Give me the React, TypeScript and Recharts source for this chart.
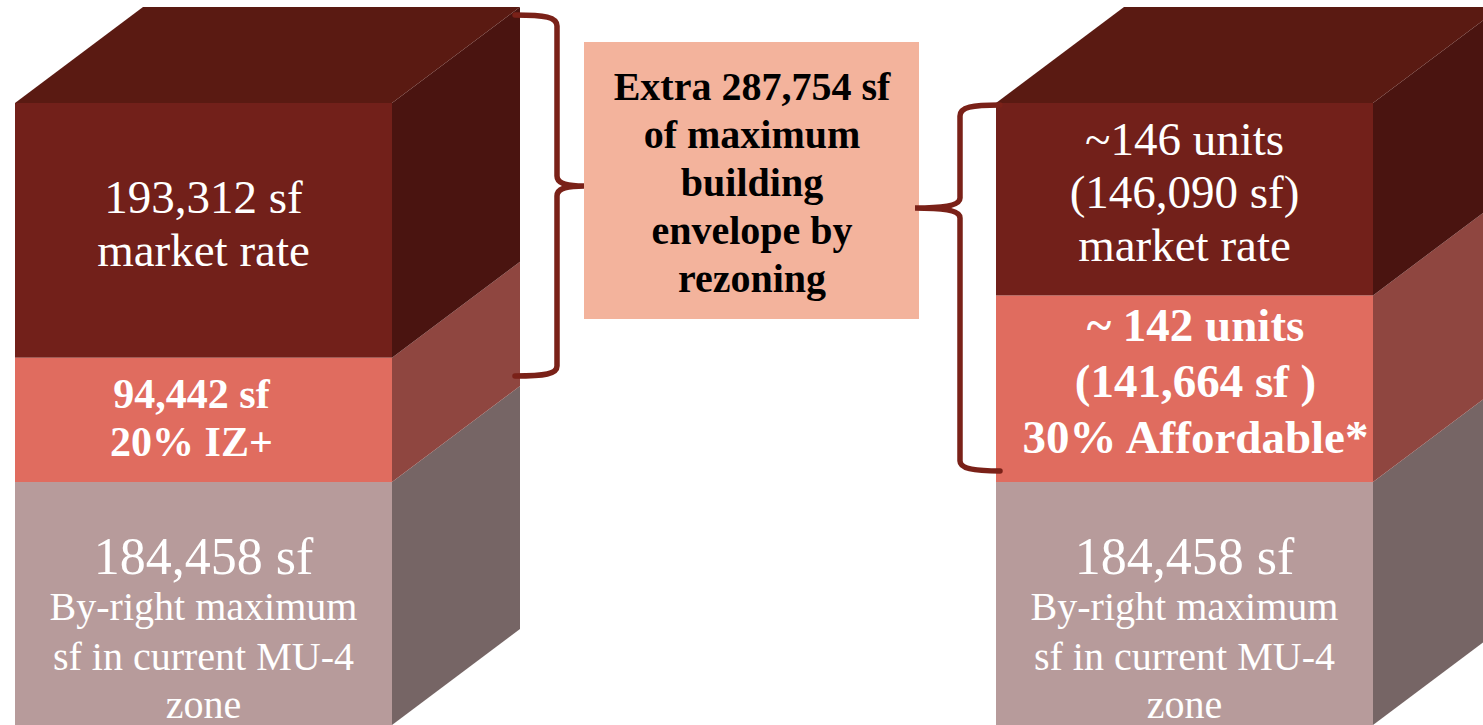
import React from "react";
import { BarChart, Bar, XAxis, YAxis } from "recharts";

// square footage per building segment, bottom to top
const categories = ["Current MU-4 zoning", "After rezoning"];
const byRightSf = [184458, 184458];
const affordableSf = [94442, 141664];
const marketRateSf = [193312, 146090];

const byRightLabels = [
  ["184,458 sf", "By-right maximum", "sf in current MU-4", "zone"],
  ["184,458 sf", "By-right maximum", "sf in current MU-4", "zone"],
];
const affordableLabels = [
  ["94,442 sf", "20% IZ+"],
  ["~ 142 units", "(141,664 sf )", "30% Affordable*"],
];
const marketRateLabels = [
  ["193,312 sf", "market rate"],
  ["~146 units", "(146,090 sf)", "market rate"],
];
const extraLabel = ["Extra 287,754 sf", "of maximum", "building", "envelope by", "rezoning"];

const data = categories.map((name, i) => ({
  name,
  byRight: byRightSf[i],
  affordable: affordableSf[i],
  marketRate: marketRateSf[i],
}));
const total = Math.max(...data.map((d) => d.byRight + d.affordable + d.marketRate));

const DX = 128;
const DY = 96;
const SERIF = '"Liberation Serif", "Times New Roman", Times, serif';
const BRACE = "#7a2118";

type Line = { text: string; y: number; size: number };
type Layout = (lines: string[], index: number, y: number, h: number) => Line[];

const centered = (size: number, lh: number, shift: number): Layout => (lines, _i, y, h) => {
  const mid = y + h / 2 + shift;
  const start = mid - ((lines.length - 1) * lh) / 2;
  return lines.map((text, k) => ({ text, y: start + k * lh, size }));
};

const marketLayout = centered(47, 53, -7);
const affordableLayout: Layout = (lines, i, y, h) =>
  i === 0 ? centered(42, 48, -2)(lines, i, y, h) : centered(47, 56, -8)(lines, i, y, h);
const byRightLayout: Layout = (lines, _i, y) => {
  const offsets = [74, 124, 174, 222];
  return lines.map((text, k) => ({ text, y: y + offsets[k], size: k === 0 ? 52 : 40 }));
};

function prism(
  front: string,
  side: string,
  topFace: string | null,
  labels: string[][],
  layout: Layout,
  bold: boolean,
  textDx: number[] = [0, 0]
) {
  return (props: any) => {
    const { x, y, width, height, index } = props;
    const r = x + width;
    const lines = layout(labels[index] || [], index, y, height);
    return (
      <g>
        <rect x={x} y={y} width={width} height={height} fill={front} />
        <polygon
          points={`${r},${y} ${r + DX},${y - DY} ${r + DX},${y + height - DY} ${r},${y + height}`}
          fill={side}
        />
        {topFace && (
          <polygon
            points={`${x},${y} ${x + DX},${y - DY} ${r + DX},${y - DY} ${r},${y}`}
            fill={topFace}
          />
        )}
        {lines.map((l, k) => (
          <text
            key={k}
            x={x + width / 2 + (textDx[index] || 0)}
            y={l.y}
            textAnchor="middle"
            dominantBaseline="central"
            fill="#ffffff"
            fontFamily={SERIF}
            fontSize={l.size}
            fontWeight={bold ? 700 : 400}
          >
            {l.text}
          </text>
        ))}
      </g>
    );
  };
}

export default function App() {
  return (
    <div
      style={{
        position: "fixed",
        left: 0,
        top: 0,
        width: 1483,
        height: 725,
        overflow: "hidden",
        background: "#ffffff",
      }}
    >
      <div style={{ position: "absolute", left: -287, top: 0 }}>
        <BarChart
          width={1962}
          height={740}
          data={data}
          margin={{ top: 103, right: 0, bottom: 15, left: 0 }}
        >
          <XAxis dataKey="name" hide />
          <YAxis hide domain={[0, total]} />
          <Bar
            dataKey="byRight"
            stackId="a"
            barSize={377}
            isAnimationActive={false}
            shape={prism("#b79b9b", "#766565", null, byRightLabels, byRightLayout, false)}
          />
          <Bar
            dataKey="affordable"
            stackId="a"
            barSize={377}
            isAnimationActive={false}
            shape={prism("#e06c5f", "#8f4640", null, affordableLabels, affordableLayout, true, [-12, 11])}
          />
          <Bar
            dataKey="marketRate"
            stackId="a"
            barSize={377}
            isAnimationActive={false}
            shape={prism("#72201a", "#4a1410", "#5a1a12", marketRateLabels, marketLayout, false)}
          />
        </BarChart>
      </div>

      <svg
        width={1483}
        height={725}
        style={{ position: "absolute", left: 0, top: 0, pointerEvents: "none" }}
      >
        <rect x={584} y={42} width={335} height={277} fill="#f3b39c" />
        {extraLabel.map((t, k) => (
          <text
            key={t}
            x={752}
            y={86 + k * 48}
            textAnchor="middle"
            dominantBaseline="central"
            fill="#000000"
            fontFamily={SERIF}
            fontSize={40}
            fontWeight={700}
          >
            {t}
          </text>
        ))}
        <path
          d="M515,15 C545,15 557,17 557,26 L557,176 C557,183 565,186 584,186 C565,186 557,189 557,196 L557,366 C557,374 545,376 515,376"
          fill="none"
          stroke={BRACE}
          strokeWidth={5.5}
          strokeLinecap="round"
        />
        <path
          d="M1000,105 C972,105 960,107 960,116 L960,198 C960,204 950,208 915,208 C950,208 960,212 960,218 L960,461 C960,468 972,471 1000,471"
          fill="none"
          stroke={BRACE}
          strokeWidth={5.5}
          strokeLinecap="round"
        />
      </svg>
    </div>
  );
}
